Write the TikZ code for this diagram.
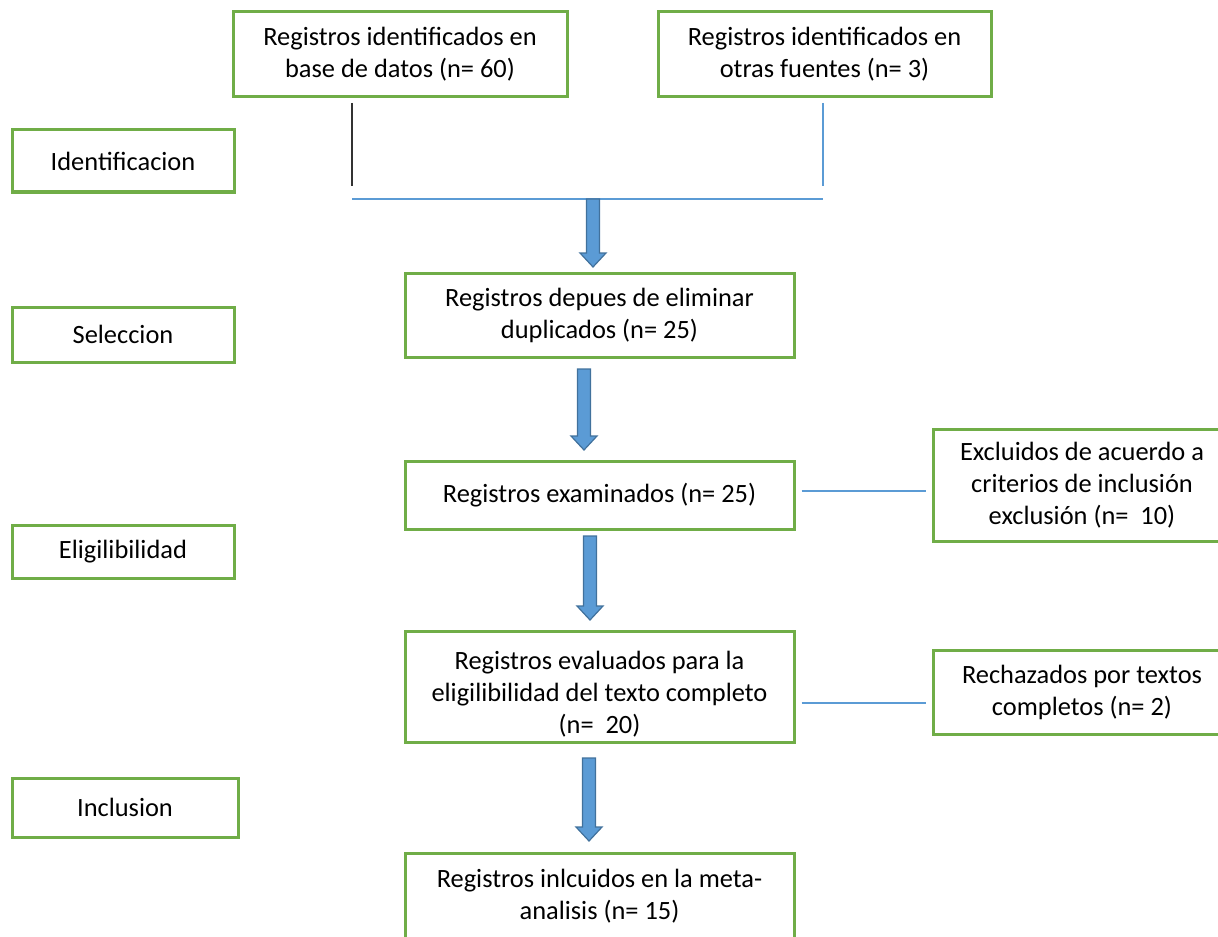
\documentclass[tikz,border=0pt]{standalone}
\usepackage{fontspec}
\setmainfont{Carlito}
\usepackage{tikz}
\usetikzlibrary{calc}

\definecolor{boxgreen}{RGB}{112,173,71}
\definecolor{lineblue}{RGB}{91,155,213}
\definecolor{arrowblue}{RGB}{91,155,213}
\definecolor{arrowedge}{RGB}{65,113,156}

\tikzset{box/.style={draw=boxgreen, line width=1.5pt, align=center, inner sep=0pt,
    font=\fontsize{13.2}{16}\selectfont},
  joinline/.style={draw=lineblue, line width=0.6pt},
  blockarr/.style={fill=arrowblue, draw=arrowedge, line width=0.6pt}
}

% block arrow going down from #1 to #2
\newcommand{\blockarrow}[2]{%
  \path[blockarr] let \p1=(#1), \p2=(#2) in
    (\x1-3.25pt,\y1) -- (\x1+3.25pt,\y1) -- (\x1+3.25pt,\y2+7pt) -- (\x1+6.5pt,\y2+7pt)
    -- (\x1,\y2) -- (\x1-6.5pt,\y2+7pt) -- (\x1-3.25pt,\y2+7pt) -- cycle;}

\begin{document}
\begin{tikzpicture}[x=0.5pt,y=-0.5pt]
                \useasboundingbox (0,0) rectangle (1218,936);

                % Stage labels
                \node[box, minimum width=111pt, minimum height=31pt] (ident) at (123,161) {Identificacion};
                \node[box, minimum width=111pt, minimum height=27.5pt] (selec) at (123,334.5) {Seleccion};
                \node[box, minimum width=111pt, minimum height=26.5pt] (eleg) at (123,551.5) {Eligilibilidad};
                \node[box, minimum width=113pt, minimum height=29.5pt] (incl) at (125,807.5) {Inclusion};

                % Records
                \node[box, minimum width=167pt, minimum height=42.5pt] (dbrec) at (400,54.5) {Registros identificados en\\base de datos (n= 60)};
                \node[box, minimum width=166.5pt, minimum height=42.5pt] (otherrec) at (824.5,54.5) {Registros identificados en\\otras fuentes (n= 3)};
                \node[box, minimum width=194.5pt, minimum height=42pt] (dedup) at (599.5,315) {Registros depues de eliminar\\duplicados (n= 25)};
                \node[box, minimum width=194.5pt, minimum height=34pt] (screen) at (599.5,495) {Registros examinados (n= 25)};
                \node[box, minimum width=149pt, minimum height=56pt] (excl) at (1082,485) {Excluidos de acuerdo a\\criterios de inclusión\\exclusión (n=\ \ 10)};
                \node[box, minimum width=194.5pt, minimum height=55.5pt] (fulltext) at (599.5,686.5) {\rule{0pt}{16.5pt}Registros evaluados para la\\eligilibilidad del texto completo\\(n=\ \ 20)};
                \node[box, minimum width=149pt, minimum height=42pt] (reject) at (1082,692) {Rechazados por textos\\completos (n= 2)};
                \node[box, minimum width=194.5pt, minimum height=43pt] (incmeta) at (599.5,896) {Registros inlcuidos en la meta-\\analisis (n= 15)};

                % Join lines
                \coordinate (ltop) at (352,103);
                \coordinate (lbot) at (352,186);
                \coordinate (rtop) at (823,103);
                \coordinate (rbot) at (823,186);
                \coordinate (jl) at (352,199);
                \coordinate (jr) at (823,199);
                \draw[line width=0.75pt, black!80] (ltop) -- (lbot);
                \draw[joinline] (rtop) -- (rbot);
                \draw[joinline] (jl) -- (jr);

                % Side lines
                \draw[joinline] ([xshift=3pt,yshift=2pt]screen.east) -- ([xshift=-3pt,yshift=2pt]screen.east -| excl.west);
                \draw[joinline] ([xshift=3pt,yshift=-8.25pt]fulltext.east) -- ([xshift=-3pt,yshift=-8.25pt]fulltext.east -| reject.west);

                % Block arrows
                \coordinate (a1s) at (593,199);
                \coordinate (a1e) at (593,267);
                \coordinate (a2s) at (584,369);
                \coordinate (a2e) at (584,450);
                \coordinate (a3s) at (590,536);
                \coordinate (a3e) at (590,620);
                \coordinate (a4s) at (589,758);
                \coordinate (a4e) at (589,841);
                \blockarrow{a1s}{a1e}
                \blockarrow{a2s}{a2e}
                \blockarrow{a3s}{a3e}
                \blockarrow{a4s}{a4e}
            \end{tikzpicture}
\end{document}
